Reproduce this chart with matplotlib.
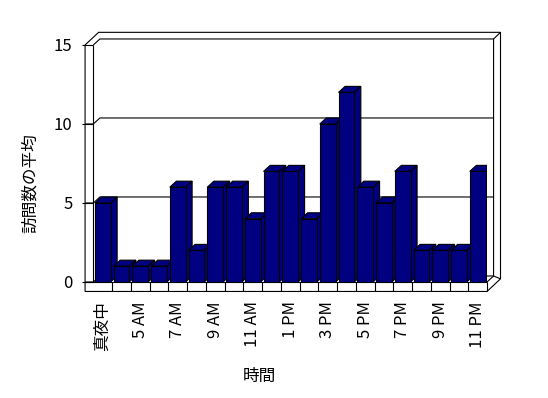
import matplotlib
matplotlib.use("Agg")
import matplotlib.pyplot as plt
from matplotlib.patches import Polygon
import numpy as np

plt.rcParams['font.family'] = ['Noto Sans CJK JP', 'DejaVu Sans']

# データ
hours = ['真夜中', '4 AM', '5 AM', '6 AM', '7 AM', '8 AM', '9 AM', '10 AM', '11 AM',
         '12 PM', '1 PM', '2 PM', '3 PM', '4 PM', '5 PM', '6 PM', '7 PM', '8 PM',
         '9 PM', '10 PM', '11 PM']
visits = [5, 1, 1, 1, 6, 2, 6, 6, 4, 7, 7, 4, 10, 12, 6, 5, 7, 2, 2, 2, 7]
yticks = [0, 5, 10, 15]

navy = '#000080'
lw = 0.8

fig = plt.figure(figsize=(5.48, 3.98), dpi=100)
ax = fig.add_axes([0.1703, 0.2915, 0.7184, 0.5955])
n = len(visits)
x = np.arange(n)
ax.set_xlim(-0.5, n - 0.5)
ax.set_ylim(0, 15)
for s in ax.spines.values():
    s.set_visible(False)

# 3D風の奥行き (データ単位)
Dx, Dy = 0.35, 0.38      # 前面 -> 奥の壁
Tx, Ty = 0.37, 0.42      # 壁の厚み
Bx, By = Dx + Tx, Dy + Ty
F = 0.6                  # 床の厚み
X0, X1 = -0.5, n - 0.5
XL = X0 - 0.44
top = 15

# 壁と床の外形
outline = [(XL, -F), (X1, -F), (X1 + Bx, -F + By), (X1 + Bx, top + By),
           (XL + Bx, top + By), (XL, top)]
ax.add_patch(Polygon(outline, closed=True, facecolor='white', edgecolor='black',
                     lw=lw, clip_on=False, zorder=1))

def line(xs, ys, z=1.5):
    ax.plot(xs, ys, color='black', lw=lw, clip_on=False, zorder=z,
            solid_capstyle='butt')

# 左の壁・床の前面
line([X0, X0], [0, top])
line([XL, X1], [0, 0])
line([X1, X1], [-F, 0])
for k in range(1, n):
    line([X0 + k, X0 + k], [-F, 0])
# 壁の上端・右端
line([X0, X0 + Dx, X1 + Dx, X1 + Dx, X1], [top, top + Dy, top + Dy, Dy, 0])
line([X1 + Dx, X1 + Bx], [top + Dy, top + By])
line([X1 + Dx, X1 + Bx], [Dy, -F + By])
# 目盛り線
for v in yticks[:-1]:
    line([XL, X0, X0 + Dx, X1 + Dx], [v, v, v + Dy, v + Dy])

# 棒
w = 0.84
bars = ax.bar(x, visits, width=w, color=navy, edgecolor='black', linewidth=lw)
for i, (rect, v) in enumerate(zip(bars, visits)):
    xl, xr = i - w / 2, i + w / 2
    z = 3 + i * 0.01
    side = Polygon([(xr, 0), (xr + Dx, Dy), (xr + Dx, v + Dy), (xr, v)],
                   facecolor=navy, edgecolor='black', lw=lw, zorder=z)
    topf = Polygon([(xl, v), (xr, v), (xr + Dx, v + Dy), (xl + Dx, v + Dy)],
                   facecolor=navy, edgecolor='black', lw=lw, zorder=z)
    ax.add_patch(side)
    ax.add_patch(topf)
    rect.set_zorder(z + 0.005)

# 軸
ax.set_yticks(yticks)
ax.tick_params(axis='y', length=8, width=lw, pad=7, labelsize=12)
ax.set_xticks(x)
ax.set_xticklabels([h if i % 2 == 0 else '' for i, h in enumerate(hours)],
                   rotation=90, fontsize=12)
ax.tick_params(axis='x', length=0, pad=14)

ax.set_xlabel('時間', fontsize=12, va='center')
ax.xaxis.set_label_coords(0.423, -0.40)
ax.set_ylabel('訪問数の平均', fontsize=12, va='center')
ax.yaxis.set_label_coords(-0.161, 0.418)

fig.savefig('out.png', dpi=100)
